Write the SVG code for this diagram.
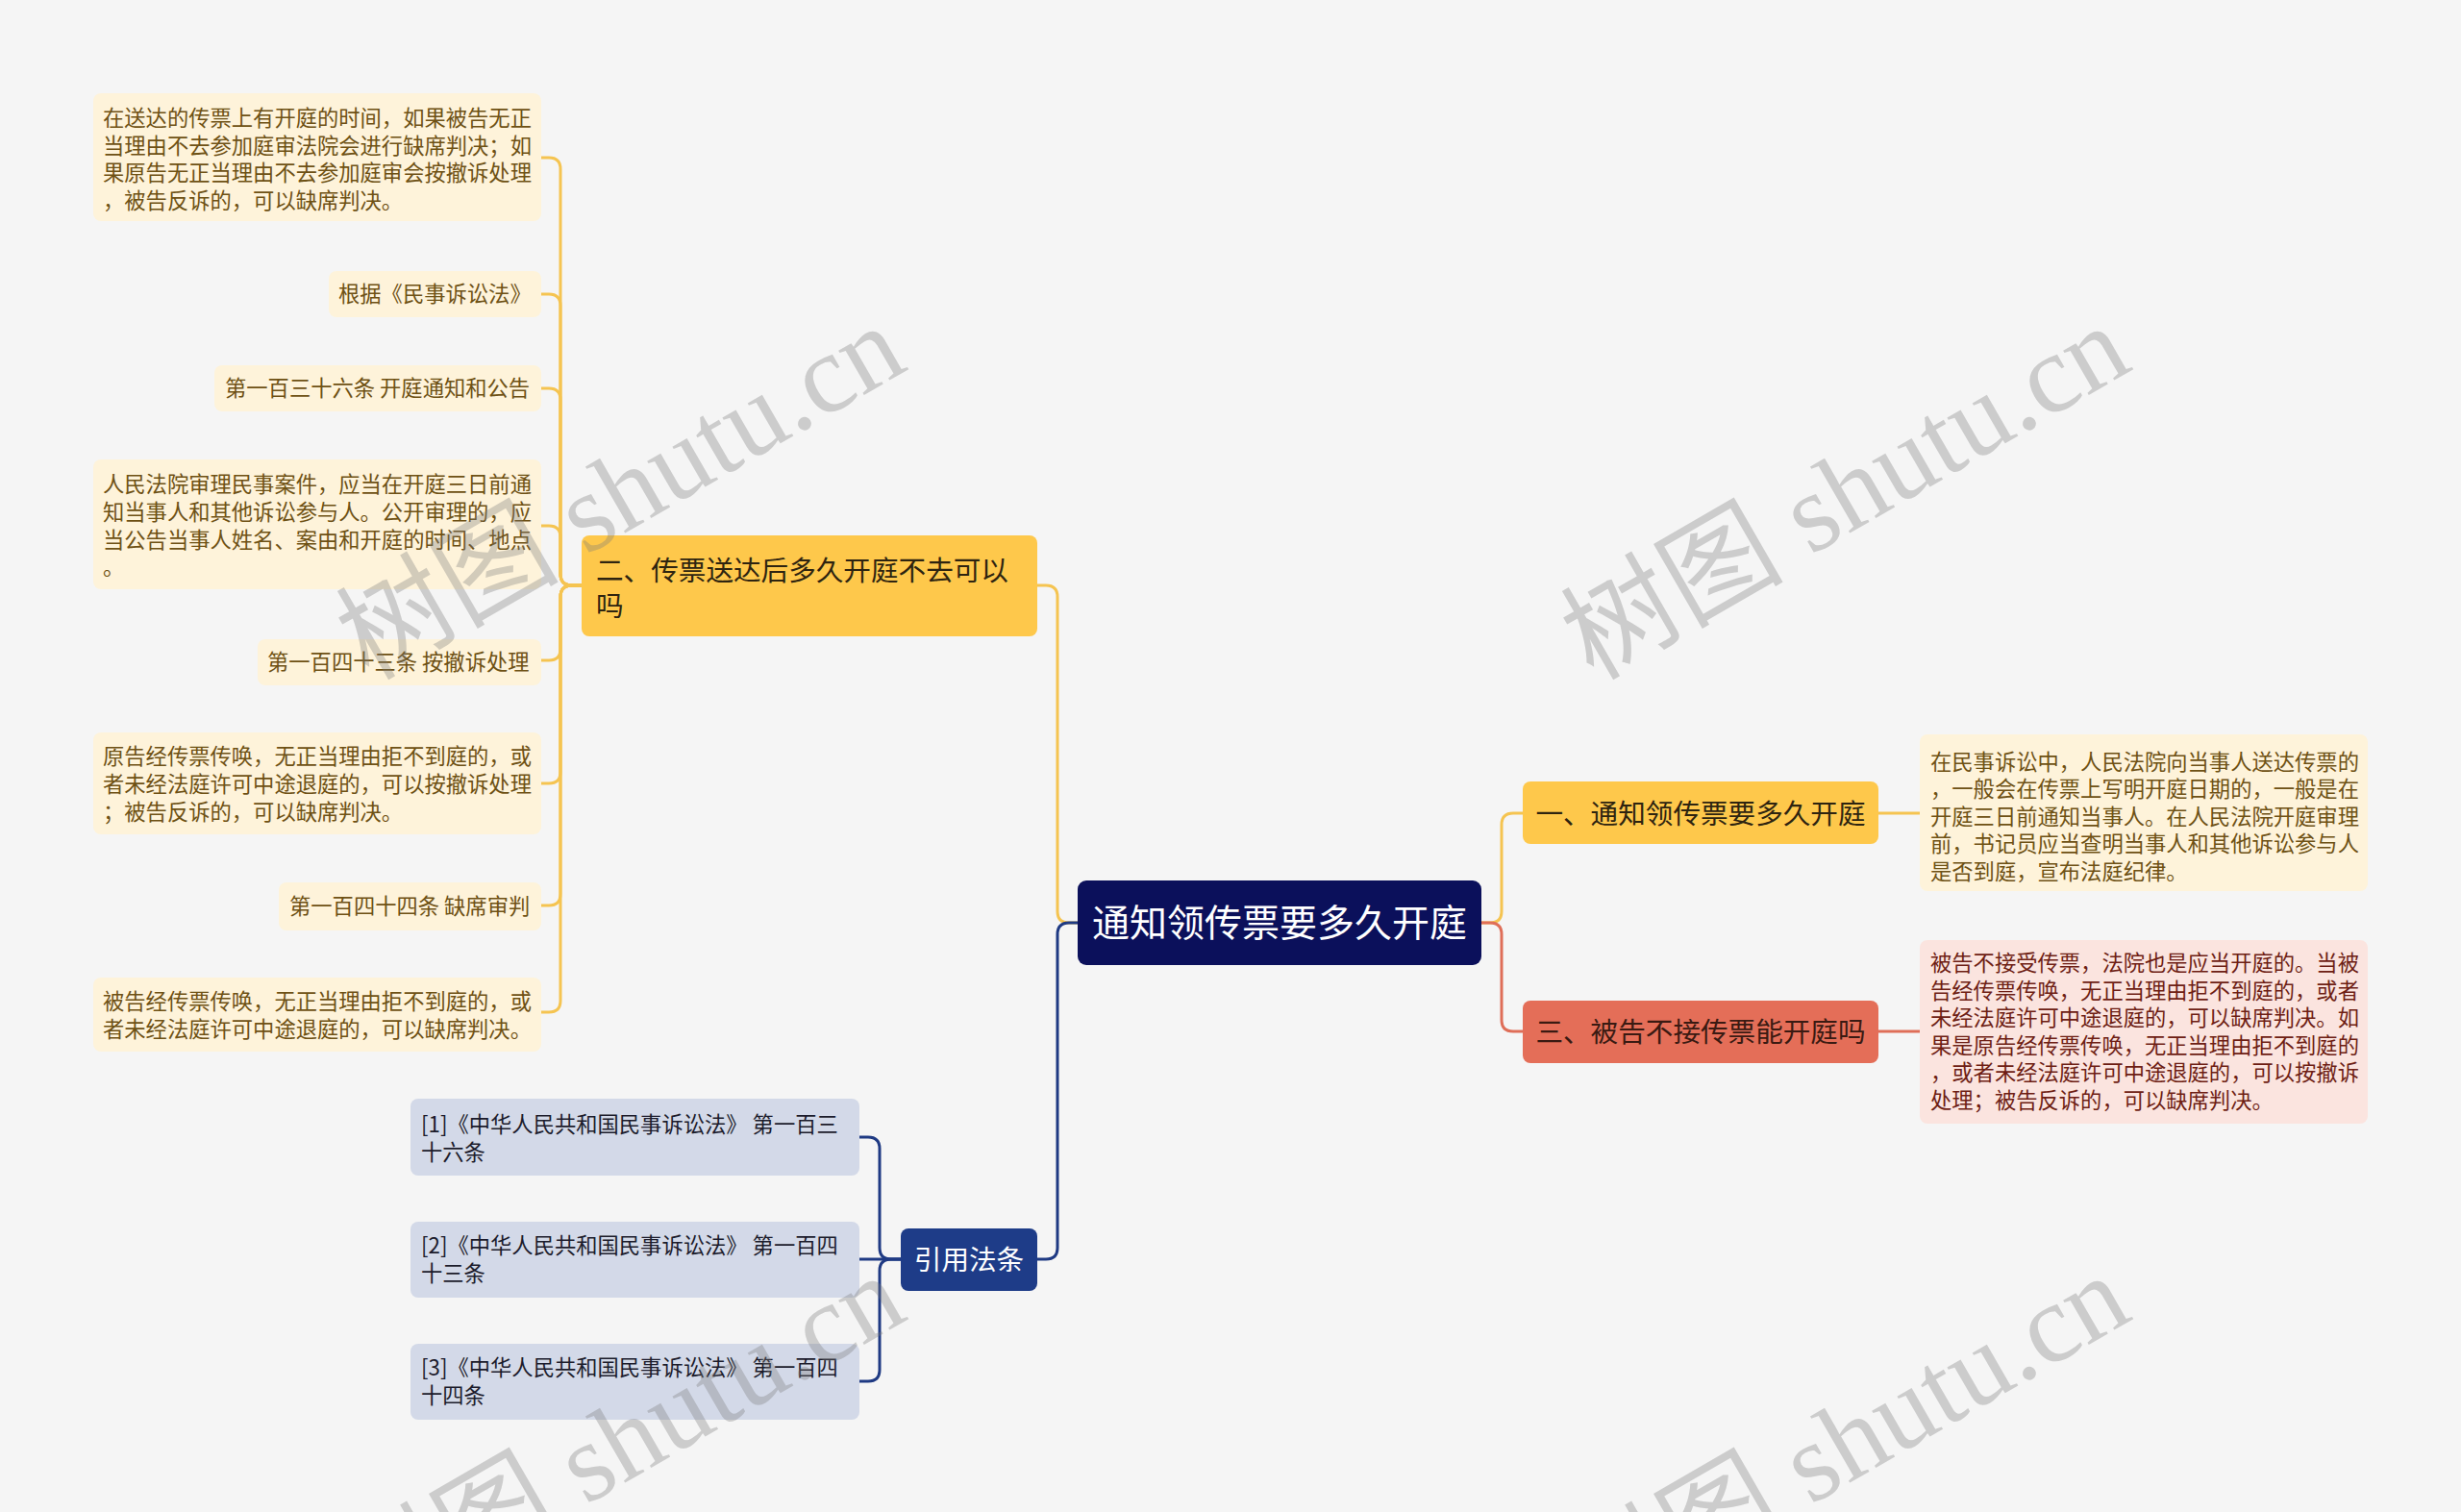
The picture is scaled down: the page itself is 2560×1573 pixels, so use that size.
<svg xmlns="http://www.w3.org/2000/svg" width="2560" height="1573" viewBox="0 0 2560 1573">
<style>
text{font-family:"Noto Sans CJK SC","Noto Sans",sans-serif}
.c{fill:none;stroke-width:3;stroke-linecap:round}
.cy{stroke:#F5C451}
.cb{stroke:#1F3A83}
.cr{stroke:#DF6E58}
.leafY{fill:#FEF3DA}
.leafYt{fill:#6E5114;font-size:22.3px}
.leafR{fill:#FBE4DF}
.leafRt{fill:#6E1E14;font-size:22.3px}
.ref{fill:#D3D9E8}
.reft{fill:#1C1C2C;font-size:22.3px}
.sub{font-size:28.6px}
.wm{font-family:"Liberation Serif","Noto Sans CJK SC",serif;font-size:116px;fill:#7A7A7A;fill-opacity:0.33}
</style>
<rect width="2560" height="1573" fill="#F5F5F5"/>
<g id="connectors">
<path class="c cy" d="M1121,960 H1112 Q1100,960 1100,948 V621 Q1100,609 1088,609 H1079"/>
<path class="c cb" d="M1121,960 H1112 Q1100,960 1100,972 V1298 Q1100,1310 1088,1310 H1079"/>
<path class="c cy" d="M1541,960 H1550 Q1562,960 1562,948 V858 Q1562,846 1574,846 H1584"/>
<path class="c cr" d="M1541,960 H1550 Q1562,960 1562,972 V1061 Q1562,1073 1574,1073 H1584"/>
<path class="c cy" d="M1954,846 H1997"/>
<path class="c cr" d="M1954,1073 H1997"/>
<path class="c cy" d="M605,609 H595 Q583,609 583,597 V176 Q583,164 571,164 H563"/>
<path class="c cy" d="M605,609 H595 Q583,609 583,597 V318 Q583,306 571,306 H563"/>
<path class="c cy" d="M605,609 H595 Q583,609 583,597 V416 Q583,404 571,404 H563"/>
<path class="c cy" d="M605,609 H595 Q583,609 583,597 V559 Q583,547 571,547 H563"/>
<path class="c cy" d="M605,609 H595 Q583,609 583,621 V675 Q583,687 571,687 H563"/>
<path class="c cy" d="M605,609 H595 Q583,609 583,621 V803 Q583,815 571,815 H563"/>
<path class="c cy" d="M605,609 H595 Q583,609 583,621 V930 Q583,942 571,942 H563"/>
<path class="c cy" d="M605,609 H595 Q583,609 583,621 V1041 Q583,1053 571,1053 H563"/>
<path class="c cb" d="M937,1310 H927 Q915,1310 915,1298 V1195 Q915,1183 903,1183 H894"/>
<path class="c cb" d="M937,1310 H894"/>
<path class="c cb" d="M937,1310 H927 Q915,1310 915,1322 V1425 Q915,1437 903,1437 H894"/>
</g>
<g id="root">
<rect x="1121" y="916" width="420" height="88" rx="9" fill="#0B105B"/>
<text x="1331" y="974" text-anchor="middle" font-size="39" fill="#FFFFFF">通知领传票要多久开庭</text>
</g>
<g id="node-2">
<rect x="605" y="557" width="474" height="105" rx="8" fill="#FEC84B"/>
<text class="sub" fill="#2E2410"><tspan x="620" y="604">二、传票送达后多久开庭不去可以</tspan><tspan x="620" y="641">吗</tspan></text>
</g>
<g id="node-1">
<rect x="1584" y="813" width="370" height="65" rx="8" fill="#FEC84B"/>
<text class="sub" x="1769" y="857" text-anchor="middle" fill="#2E2410">一、通知领传票要多久开庭</text>
</g>
<g id="node-3">
<rect x="1584" y="1041" width="370" height="65" rx="8" fill="#E46E58"/>
<text class="sub" x="1769" y="1084" text-anchor="middle" fill="#3A1A12">三、被告不接传票能开庭吗</text>
</g>
<g id="node-ref">
<rect x="937" y="1278" width="142" height="65" rx="8" fill="#1E3C88"/>
<text class="sub" x="1008" y="1321" text-anchor="middle" fill="#FFFFFF">引用法条</text>
</g>
<g id="leaf-l1">
<rect class="leafY" x="97" y="97" width="466" height="133" rx="8"/>
<text class="leafYt"><tspan x="107" y="131">在送达的传票上有开庭的时间，如果被告无正</tspan><tspan x="107" y="160">当理由不去参加庭审法院会进行缺席判决；如</tspan><tspan x="107" y="188">果原告无正当理由不去参加庭审会按撤诉处理</tspan><tspan x="107" y="217">，被告反诉的，可以缺席判决。</tspan></text>
</g>
<g id="leaf-l2">
<rect class="leafY" x="342" y="282" width="221" height="48" rx="8"/>
<text class="leafYt" x="352" y="314">根据《民事诉讼法》</text>
</g>
<g id="leaf-l3">
<rect class="leafY" x="223" y="380" width="340" height="48" rx="8"/>
<text class="leafYt" x="234" y="412">第一百三十六条 开庭通知和公告</text>
</g>
<g id="leaf-l4">
<rect class="leafY" x="97" y="478" width="466" height="135" rx="8"/>
<text class="leafYt"><tspan x="107" y="512">人民法院审理民事案件，应当在开庭三日前通</tspan><tspan x="107" y="541">知当事人和其他诉讼参与人。公开审理的，应</tspan><tspan x="107" y="570">当公告当事人姓名、案由和开庭的时间、地点</tspan><tspan x="107" y="598">。</tspan></text>
</g>
<g id="leaf-l5">
<rect class="leafY" x="268" y="665" width="295" height="48" rx="8"/>
<text class="leafYt" x="278" y="697">第一百四十三条 按撤诉处理</text>
</g>
<g id="leaf-l6">
<rect class="leafY" x="97" y="762" width="466" height="106" rx="8"/>
<text class="leafYt"><tspan x="107" y="795">原告经传票传唤，无正当理由拒不到庭的，或</tspan><tspan x="107" y="824">者未经法庭许可中途退庭的，可以按撤诉处理</tspan><tspan x="107" y="853">；被告反诉的，可以缺席判决。</tspan></text>
</g>
<g id="leaf-l7">
<rect class="leafY" x="290" y="918" width="273" height="50" rx="8"/>
<text class="leafYt" x="301" y="951">第一百四十四条 缺席审判</text>
</g>
<g id="leaf-l8">
<rect class="leafY" x="97" y="1017" width="466" height="77" rx="8"/>
<text class="leafYt"><tspan x="107" y="1050">被告经传票传唤，无正当理由拒不到庭的，或</tspan><tspan x="107" y="1079">者未经法庭许可中途退庭的，可以缺席判决。</tspan></text>
</g>
<g id="ref-1">
<rect class="ref" x="427" y="1143" width="467" height="80" rx="8"/>
<text class="reft"><tspan x="438" y="1178">[1]《中华人民共和国民事诉讼法》 第一百三</tspan><tspan x="438" y="1207">十六条</tspan></text>
</g>
<g id="ref-2">
<rect class="ref" x="427" y="1271" width="467" height="79" rx="8"/>
<text class="reft"><tspan x="438" y="1304">[2]《中华人民共和国民事诉讼法》 第一百四</tspan><tspan x="438" y="1333">十三条</tspan></text>
</g>
<g id="ref-3">
<rect class="ref" x="427" y="1398" width="467" height="79" rx="8"/>
<text class="reft"><tspan x="438" y="1431">[3]《中华人民共和国民事诉讼法》 第一百四</tspan><tspan x="438" y="1460">十四条</tspan></text>
</g>
<g id="leaf-r1">
<rect class="leafY" x="1997" y="764" width="466" height="163" rx="8"/>
<text class="leafYt"><tspan x="2008" y="801">在民事诉讼中，人民法院向当事人送达传票的</tspan><tspan x="2008" y="829">，一般会在传票上写明开庭日期的，一般是在</tspan><tspan x="2008" y="858">开庭三日前通知当事人。在人民法院开庭审理</tspan><tspan x="2008" y="886">前，书记员应当查明当事人和其他诉讼参与人</tspan><tspan x="2008" y="915">是否到庭，宣布法庭纪律。</tspan></text>
</g>
<g id="leaf-r2">
<rect class="leafR" x="1997" y="978" width="466" height="191" rx="8"/>
<text class="leafRt"><tspan x="2008" y="1010">被告不接受传票，法院也是应当开庭的。当被</tspan><tspan x="2008" y="1039">告经传票传唤，无正当理由拒不到庭的，或者</tspan><tspan x="2008" y="1067">未经法庭许可中途退庭的，可以缺席判决。如</tspan><tspan x="2008" y="1096">果是原告经传票传唤，无正当理由拒不到庭的</tspan><tspan x="2008" y="1124">，或者未经法庭许可中途退庭的，可以按撤诉</tspan><tspan x="2008" y="1153">处理；被告反诉的，可以缺席判决。</tspan></text>
</g>
<g id="watermarks">
<text class="wm" transform="translate(665,546) rotate(-30)" text-anchor="middle">树图 shutu.cn</text>
<text class="wm" transform="translate(1939,546) rotate(-30)" text-anchor="middle">树图 shutu.cn</text>
<text class="wm" transform="translate(665,1534) rotate(-30)" text-anchor="middle">树图 shutu.cn</text>
<text class="wm" transform="translate(1939,1534) rotate(-30)" text-anchor="middle">树图 shutu.cn</text>
</g>
</svg>
